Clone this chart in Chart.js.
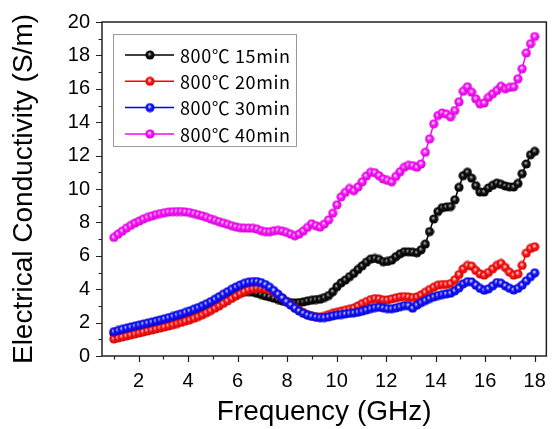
<!DOCTYPE html>
<html>
<head>
<meta charset="utf-8">
<script src="https://cdn.jsdelivr.net/npm/chart.js@4.4.0/dist/chart.umd.min.js"></script>
<style>
    html, body { margin: 0; padding: 0; background: #fff; }
    canvas { display: block; }
</style>
</head>
<body>
<canvas id="chart" width="553" height="429"></canvas>
<script>
/* 1. data (1 - 18 GHz, 101 points) */
const freq = Array.from({ length: 101 }, (_, i) => +(1 + i * 0.17).toFixed(2));

const labels = ['800℃ 15min', '800℃ 20min', '800℃ 30min', '800℃ 40min'];
const colors = ['#000000', '#ff0000', '#0000ff', '#ff00ff'];

const xTicks = [2, 4, 6, 8, 10, 12, 14, 16, 18];
const yTicks = [0, 2, 4, 6, 8, 10, 12, 14, 16, 18, 20];

const s15 = [
    1.36, 1.42, 1.48, 1.54, 1.60, 1.66, 1.72, 1.78, 1.84, 1.90,
    1.96, 2.02, 2.08, 2.14, 2.20, 2.27, 2.34, 2.41, 2.48, 2.56,
    2.64, 2.73, 2.83, 2.94, 3.05, 3.17, 3.30, 3.43, 3.56, 3.68,
    3.78, 3.85, 3.86, 3.82, 3.75, 3.68, 3.60, 3.54, 3.46, 3.38,
    3.30, 3.24, 3.20, 3.18, 3.20, 3.24, 3.30, 3.34, 3.38, 3.40,
    3.50, 3.62, 3.85, 4.15, 4.38, 4.55, 4.75, 4.95, 5.18, 5.40,
    5.62, 5.80, 5.84, 5.78, 5.65, 5.66, 5.74, 5.95, 6.12, 6.24,
    6.24, 6.22, 6.18, 6.36, 6.70, 7.45, 8.20, 8.65, 8.88, 8.92,
    8.95, 9.35, 10.10, 10.80, 11.00, 10.65, 10.20, 9.82, 9.82, 10.06,
    10.22, 10.35, 10.28, 10.18, 10.13, 10.12, 10.33, 10.92, 11.50, 12.05,
    12.25
];
const s20 = [
    1.02, 1.08, 1.14, 1.20, 1.26, 1.32, 1.38, 1.44, 1.50, 1.56,
    1.62, 1.68, 1.74, 1.80, 1.87, 1.94, 2.01, 2.09, 2.17, 2.26,
    2.36, 2.47, 2.59, 2.72, 2.86, 3.00, 3.15, 3.30, 3.45, 3.60,
    3.74, 3.86, 3.96, 4.02, 4.05, 4.04, 4.00, 3.94, 3.82, 3.66,
    3.48, 3.28, 3.08, 2.90, 2.74, 2.60, 2.48, 2.40, 2.35, 2.34,
    2.38, 2.48, 2.56, 2.62, 2.68, 2.74, 2.80, 2.88, 3.00, 3.14,
    3.26, 3.38, 3.44, 3.42, 3.36, 3.36, 3.42, 3.48, 3.54, 3.56,
    3.54, 3.50, 3.54, 3.66, 3.82, 3.98, 4.12, 4.24, 4.28, 4.28,
    4.34, 4.56, 4.88, 5.22, 5.42, 5.38, 5.12, 4.92, 4.84, 5.00,
    5.22, 5.42, 5.54, 5.30, 5.02, 4.84, 4.92, 5.42, 6.16, 6.44,
    6.54
];
const s30 = [
    1.46, 1.53, 1.60, 1.67, 1.73, 1.79, 1.85, 1.91, 1.97, 2.03,
    2.09, 2.16, 2.23, 2.30, 2.37, 2.45, 2.53, 2.61, 2.70, 2.80,
    2.90, 3.01, 3.13, 3.26, 3.40, 3.55, 3.70, 3.85, 4.00, 4.13,
    4.25, 4.35, 4.42, 4.46, 4.46, 4.40, 4.28, 4.12, 3.92, 3.70,
    3.48, 3.26, 3.06, 2.86, 2.70, 2.56, 2.45, 2.38, 2.33, 2.30,
    2.30, 2.34, 2.40, 2.45, 2.48, 2.52, 2.55, 2.58, 2.62, 2.68,
    2.76, 2.84, 2.90, 2.92, 2.88, 2.84, 2.83, 2.88, 2.95, 3.02,
    3.02, 2.86, 3.05, 3.20, 3.32, 3.44, 3.54, 3.62, 3.68, 3.72,
    3.76, 3.90, 4.08, 4.32, 4.45, 4.44, 4.24, 4.05, 3.94, 4.02,
    4.20, 4.40, 4.36, 4.20, 4.06, 3.95, 4.05, 4.24, 4.50, 4.75,
    4.98
];
const s40 = [
    7.10, 7.30, 7.48, 7.66, 7.82, 7.96, 8.08, 8.20, 8.30, 8.39,
    8.47, 8.53, 8.58, 8.62, 8.64, 8.65, 8.65, 8.63, 8.59, 8.53,
    8.46, 8.39, 8.30, 8.21, 8.12, 8.04, 7.96, 7.88, 7.80, 7.73,
    7.68, 7.66, 7.66, 7.65, 7.60, 7.50, 7.45, 7.44, 7.50, 7.52,
    7.48, 7.40, 7.30, 7.20, 7.30, 7.48, 7.70, 7.92, 7.80, 7.72,
    7.90, 8.15, 8.55, 9.05, 9.53, 9.80, 10.03, 9.90, 10.12, 10.43,
    10.78, 11.00, 10.98, 10.80, 10.60, 10.52, 10.43, 10.75, 11.03, 11.30,
    11.42, 11.40, 11.30, 11.50, 12.20, 13.00, 13.90, 14.40, 14.55, 14.49,
    14.32, 14.70, 15.22, 15.85, 16.12, 15.80, 15.40, 15.10, 15.15, 15.48,
    15.70, 15.90, 16.15, 16.00, 16.08, 16.12, 16.60, 17.20, 18.15, 18.70,
    19.13
];

const series = [s15, s20, s30, s40];
const drawOrder = [4, 3, 2, 1];

/* 2. shaded ball markers */
function makeBall(base, edge, shine) {
    const c = document.createElement('canvas');
    c.width = 10;
    c.height = 10;
    const g = c.getContext('2d');
    const grad = g.createRadialGradient(4.4, 3.9, 0.2, 5, 5, 5);
    grad.addColorStop(0, shine);
    grad.addColorStop(0.4, base);
    grad.addColorStop(1, edge);
    g.fillStyle = grad;
    g.beginPath();
    g.arc(5, 5, 4.6, 0, Math.PI * 2);
    g.fill();
    return c;
}

const balls = [
    makeBall('#111111', '#000000', '#bbbbbb'),
    makeBall('#ff1a1a', '#cc0000', '#ffffff'),
    makeBall('#1a1aff', '#0000cc', '#ffffff'),
    makeBall('#ff1aff', '#cc00cc', '#ffffff')
];

/* 3. frame, minor ticks and in-plot legend */
const framePlugin = {
    id: 'frame',
    afterDraw(chart) {
        const { ctx, chartArea: a, scales } = chart;
        const xs = scales.x, ys = scales.y;
        ctx.save();
        ctx.strokeStyle = '#222';
        ctx.lineWidth = 1.5;
        ctx.strokeRect(a.left, a.top, a.right - a.left, a.bottom - a.top);

        ctx.lineWidth = 1.2;
        ctx.beginPath();
        for (let v = 1; v <= 18; v++) {
            const px = Math.round(xs.getPixelForValue(v)) + 0.5;
            const len = v % 2 === 0 ? 6 : 3.5;
            ctx.moveTo(px, a.bottom);
            ctx.lineTo(px, a.bottom + len);
        }
        for (let v = 0; v <= 20; v++) {
            const py = Math.round(ys.getPixelForValue(v)) + 0.5;
            const len = v % 2 === 0 ? 6 : 3.5;
            ctx.moveTo(a.left, py);
            ctx.lineTo(a.left - len, py);
        }
        ctx.stroke();

        // legend box
        const bx = 113, by = 34, bw = 183, bh = 112;
        ctx.lineWidth = 1;
        ctx.strokeStyle = '#999';
        ctx.strokeRect(bx + 0.5, by + 0.5, bw, bh);
        ctx.font = '18px "Noto Sans CJK SC", "Open Sans", sans-serif';
        if ('letterSpacing' in ctx) ctx.letterSpacing = '0.6px';
        ctx.textBaseline = 'middle';
        chart.data.datasets.forEach((ds, i) => {
            const ry = 55 + i * 26.3;
            ctx.strokeStyle = ds.borderColor;
            ctx.lineWidth = 1.5;
            ctx.beginPath();
            ctx.moveTo(125, ry);
            ctx.lineTo(174, ry);
            ctx.stroke();
            ctx.drawImage(balls[i], 145, ry - 5);
            ctx.fillStyle = '#000';
            ctx.fillText(ds.label, 180, ry + 1);
        });
        ctx.restore();
    }
};

/* 4. chart */
const tickFont = { family: '"Liberation Sans", Arial, sans-serif', size: 20 };
const titleFont = { family: '"Liberation Sans", Arial, sans-serif', size: 28, lineHeight: 1.2 };

new Chart(document.getElementById('chart'), {
    type: 'line',
    data: {
        datasets: series.map((vals, i) => ({
            label: labels[i],
            data: vals.map((v, k) => ({ x: freq[k], y: v })),
            borderColor: colors[i],
            borderWidth: 1.5,
            pointStyle: balls[i],
            pointRadius: 4.6,
            tension: 0,
            fill: false,
            order: drawOrder[i]
        }))
    },
    options: {
        responsive: false,
        animation: false,
        layout: { padding: { top: 22, right: 2, left: 0, bottom: 0 } },
        plugins: {
            legend: { display: false },
            tooltip: { enabled: false }
        },
        scales: {
            x: {
                type: 'linear',
                min: 0.52,
                max: 18.47,
                afterBuildTicks: s => { s.ticks = xTicks.map(v => ({ value: v })); },
                afterFit: s => { s.height = 73; },
                grid: { display: false, drawTicks: true, tickLength: 6 },
                border: { display: false },
                ticks: { font: tickFont, color: '#000', padding: 7, maxRotation: 0, autoSkip: false },
                title: {
                    display: true,
                    text: 'Frequency (GHz)',
                    font: titleFont,
                    color: '#000',
                    padding: { top: 0, bottom: 0 }
                }
            },
            y: {
                min: 0,
                max: 20,
                afterBuildTicks: s => { s.ticks = yTicks.map(v => ({ value: v })); },
                afterFit: s => { s.width = 102; },
                grid: { display: false, drawTicks: true, tickLength: 6 },
                border: { display: false },
                ticks: { font: tickFont, color: '#000', padding: 6, autoSkip: false },
                title: {
                    display: true,
                    text: 'Electrical Conductivity (S/m)',
                    font: titleFont,
                    color: '#000',
                    padding: { top: 7, bottom: 0 }
                }
            }
        }
    },
    plugins: [framePlugin]
});
</script>
</body>
</html>
